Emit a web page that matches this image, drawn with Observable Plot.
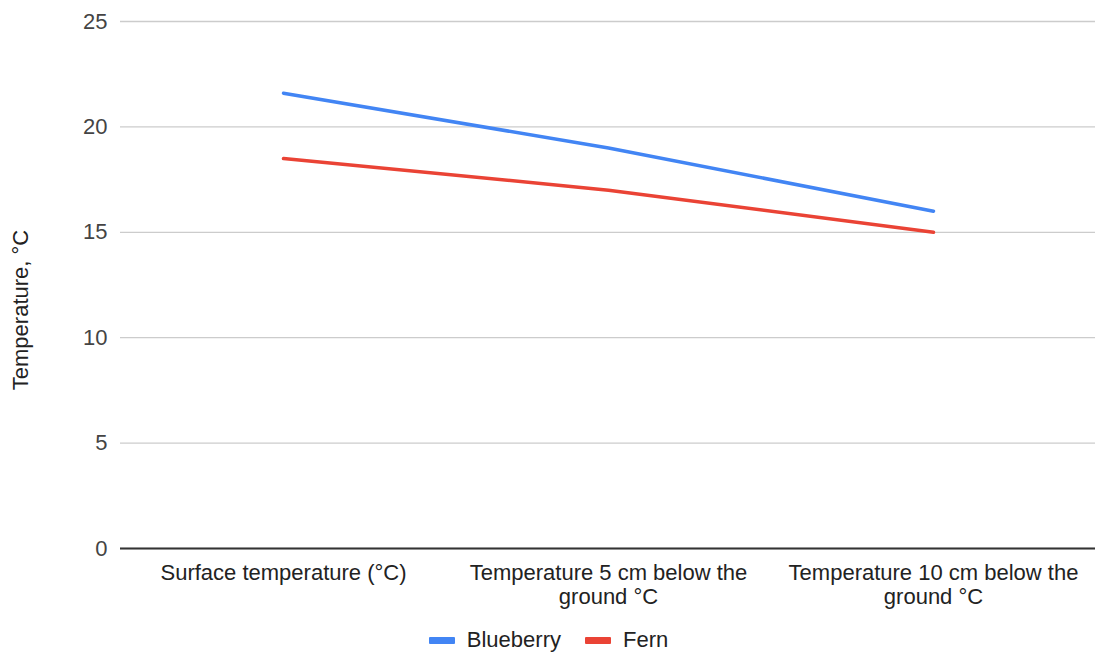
<!DOCTYPE html>
<html>
<head>
<meta charset="utf-8">
<script src="https://cdn.jsdelivr.net/npm/d3@7"></script>
<script src="https://cdn.jsdelivr.net/npm/@observablehq/plot@0.6"></script>
<style>
  html, body { margin: 0; padding: 0; background: #fff; }
  body { width: 1097px; height: 657px; overflow: hidden; font-family: "Liberation Sans", Arial, sans-serif; }
  #legend { display: flex; justify-content: center; align-items: center; height: 40px; font-size: 22px; color: #222; }
  .item { display: flex; align-items: center; margin: 0 12px; }
  .sw { width: 26px; height: 7px; margin-right: 12px; border-radius: 1px; }
</style>
</head>
<body>
<div id="chart"></div>
<div id="legend"></div>
<script>
const categories = ["Surface temperature (°C)", "Temperature 5 cm below the ground °C", "Temperature 10 cm below the ground °C"];
const tickLabels = ["Surface temperature (°C)", "Temperature 5 cm below the\nground °C", "Temperature 10 cm below the\nground °C"];
const seriesNames = ["Blueberry", "Fern"];
const blueberry = [21.6, 19.0, 16.0];
const fern = [18.5, 17.0, 15.0];
const yTicks = [0, 5, 10, 15, 20, 25];
const yLabel = "Temperature, °C";
const colors = ["#4285F4", "#EA4335"];

const data = [
  ...categories.map((c, i) => ({cat: c, value: blueberry[i], series: seriesNames[0]})),
  ...categories.map((c, i) => ({cat: c, value: fern[i], series: seriesNames[1]}))
];

const chart = Plot.plot({
  width: 1097,
  height: 620,
  marginLeft: 120,
  marginRight: 2,
  marginTop: 21,
  marginBottom: 72,
  style: {fontFamily: "Liberation Sans, Arial, sans-serif", fontSize: "22px", color: "#222", background: "#fff"},
  x: {type: "point", domain: categories, padding: 0.5},
  y: {domain: [0, 25]},
  color: {domain: seriesNames, range: colors},
  marks: [
    Plot.gridY(yTicks, {stroke: "#cccccc", strokeOpacity: 1, strokeWidth: 1.3}),
    Plot.axisY(yTicks, {tickSize: 0, tickPadding: 13, fill: "#444", label: null}),
    Plot.text([yLabel], {frameAnchor: "left", textAnchor: "middle", dx: -100, dy: 25, rotate: -90, fill: "#222", fontSize: 22}),
    Plot.axisX({tickSize: 0, tickPadding: 14, fill: "#222", label: null, tickFormat: d => tickLabels[categories.indexOf(d)], lineHeight: 1.1}),
    Plot.ruleY([0], {stroke: "#333", strokeWidth: 2}),
    Plot.line(data, {x: "cat", y: "value", z: "series", stroke: "series", strokeWidth: 3.5})
  ]
});
document.getElementById("chart").appendChild(chart);

const legend = document.getElementById("legend");
seriesNames.forEach((n, i) => {
  const it = document.createElement("div");
  it.className = "item";
  const sw = document.createElement("div");
  sw.className = "sw";
  sw.style.background = colors[i];
  const t = document.createElement("span");
  t.textContent = n;
  it.appendChild(sw); it.appendChild(t);
  legend.appendChild(it);
});
</script>
</body>
</html>
